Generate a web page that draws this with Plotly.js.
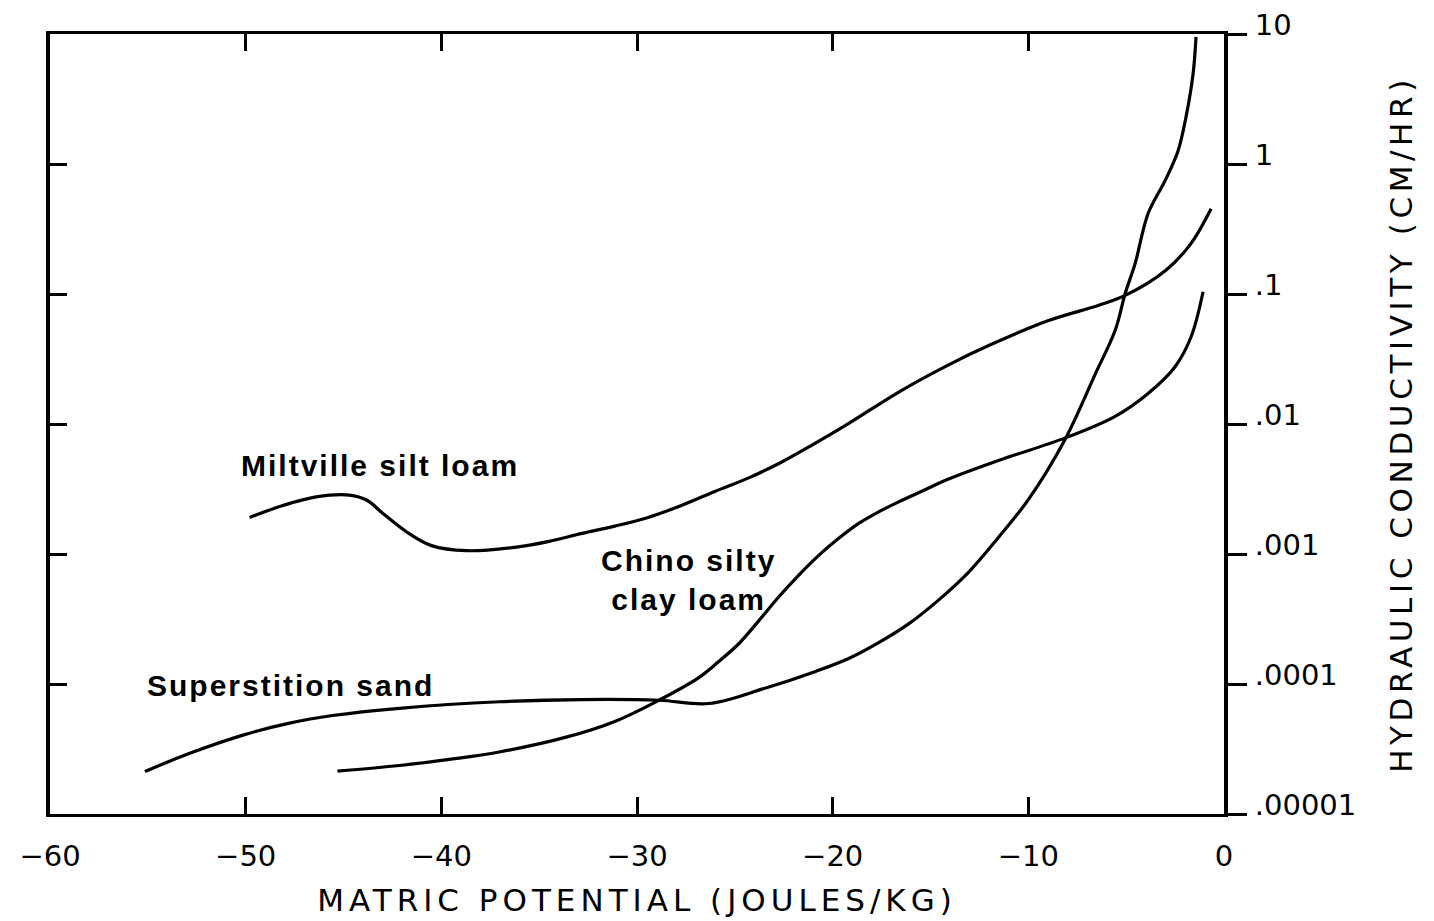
<!DOCTYPE html>
<html>
<head>
<meta charset="utf-8">
<script src="https://cdn.plot.ly/plotly-3.0.1.min.js"></script>
<style>
  html, body { margin: 0; padding: 0; background: #ffffff; }
  #chart { width: 1434px; height: 921px; }
  .xtitle { letter-spacing: 5px; }
  .ytitle { letter-spacing: 4.6px; }
  .annotation-text { letter-spacing: 2px; }
</style>
</head>
<body>
<div id="chart"></div>
<script>
// Matric potential (J/kg) and hydraulic conductivity (cm/hr)
const miltvillePotential = [-49.8, -48.1, -46.4, -44.7, -43.8, -43.0, -41.8, -40.5, -38.7, -36.17, -34.49, -32.81, -31.12, -29.39, -27.7, -26.02, -24.29, -22.6, -20.97, -19.34, -16.6, -14.1, -12.0, -9.0, -6.4, -5.05, -3.0, -1.7, -0.66];
const miltvilleK = [0.00191, 0.00236, 0.00275, 0.00284, 0.00259, 0.00206, 0.00149, 0.00116, 0.00106, 0.00113, 0.00125, 0.00144, 0.00164, 0.00192, 0.00237, 0.00303, 0.00385, 0.0051, 0.0070, 0.00975, 0.0177, 0.0284, 0.0403, 0.0622, 0.082, 0.0975, 0.151, 0.243, 0.452];

const sandPotential = [-55.15, -52.86, -50.05, -47.76, -45.56, -42.14, -37.04, -32.81, -28.88, -26.33, -23.42, -20.87, -19.18, -17.65, -16.12, -14.59, -13.06, -11.53, -10.0, -8.11, -6.58, -5.56, -5.05, -4.54, -3.88, -3.01, -2.35, -1.94, -1.58, -1.43];
const sandK = [2.12e-5, 2.93e-5, 4.08e-5, 5.0e-5, 5.72e-5, 6.5e-5, 7.3e-5, 7.59e-5, 7.5e-5, 7.08e-5, 9.33e-5, 1.25e-4, 1.57e-4, 2.08e-4, 2.9e-4, 4.42e-4, 7.23e-4, 1.34e-3, 2.62e-3, 7.68e-3, 0.0242, 0.0526, 0.101, 0.172, 0.416, 0.745, 1.26, 2.31, 4.94, 9.5];

const chinoPotential = [-45.31, -42.14, -39.59, -37.04, -33.62, -31.07, -28.88, -26.84, -25.82, -24.8, -23.78, -22.76, -21.73, -20.71, -19.69, -18.67, -17.65, -16.63, -15.36, -14.08, -11.53, -8.11, -5.56, -3.88, -2.5, -1.68, -1.07];
const chinoK = [2.14e-5, 2.36e-5, 2.63e-5, 3.0e-5, 3.9e-5, 5.2e-5, 7.5e-5, 1.12e-4, 1.49e-4, 2.04e-4, 3.06e-4, 4.67e-4, 6.89e-4, 9.77e-4, 1.32e-3, 1.72e-3, 2.11e-3, 2.52e-3, 3.08e-3, 3.77e-3, 5.24e-3, 7.82e-3, 0.01146, 0.01718, 0.0276, 0.0469, 0.104];

const xTickVals = [-60, -50, -40, -30, -20, -10, 0];
const yTickVals = [0.00001, 0.0001, 0.001, 0.01, 0.1, 1, 10];
const yTickText = ['.00001', '.0001', '.001', '.01', '.1', '1', '10'];
const yInnerTickVals = [0.0001, 0.001, 0.01, 0.1, 1];

const labelMiltville = 'Miltville silt loam';
const labelSand = 'Superstition sand';
const labelChino = 'Chino silty<br>clay loam';

const lineStyle = {color: '#000000', width: 3.2, shape: 'spline', smoothing: 1.0};

const traces = [
  {x: miltvillePotential, y: miltvilleK, type: 'scatter', mode: 'lines', line: lineStyle, name: 'Miltville silt loam', hoverinfo: 'skip'},
  {x: sandPotential, y: sandK, type: 'scatter', mode: 'lines', line: lineStyle, name: 'Superstition sand', hoverinfo: 'skip'},
  {x: chinoPotential, y: chinoK, type: 'scatter', mode: 'lines', line: lineStyle, name: 'Chino silty clay loam', yaxis: 'y2', hoverinfo: 'skip'}
];

const tickFont = {family: 'DejaVu Sans', size: 29, color: '#000000'};
const titleFont = {family: 'DejaVu Sans', size: 31, color: '#000000'};
const annFont = {family: 'Liberation Sans', size: 30, color: '#000000', weight: 'bold'};

const layout = {
  width: 1434,
  height: 921,
  paper_bgcolor: '#ffffff',
  plot_bgcolor: '#ffffff',
  showlegend: false,
  margin: {l: 50, r: 210, t: 34, b: 107},
  xaxis: {
    range: [-60, 0],
    tickvals: xTickVals,
    ticks: 'inside',
    ticklen: 17,
    tickwidth: 3,
    tickcolor: '#000000',
    showline: true,
    linewidth: 3,
    linecolor: '#000000',
    mirror: 'ticks',
    showgrid: false,
    zeroline: false,
    tickfont: tickFont,
    ticklabelstandoff: 14,
    title: {text: 'MATRIC POTENTIAL (JOULES/KG)', font: titleFont, standoff: 18}
  },
  yaxis: {
    type: 'log',
    range: [-5, 1],
    side: 'right',
    tickvals: yTickVals,
    ticktext: yTickText,
    ticks: 'outside',
    ticklen: 19,
    tickwidth: 3,
    tickcolor: '#000000',
    showline: true,
    linewidth: 4,
    linecolor: '#000000',
    showgrid: false,
    zeroline: false,
    tickfont: tickFont,
    ticklabelshift: -9,
    ticklabelstandoff: 2,
    title: {text: 'HYDRAULIC CONDUCTIVITY (CM/HR)', font: titleFont, standoff: 36}
  },
  yaxis2: {
    type: 'log',
    range: [-5, 1],
    overlaying: 'y',
    side: 'left',
    anchor: 'x',
    tickvals: yInnerTickVals,
    showticklabels: false,
    ticks: 'inside',
    ticklen: 17,
    tickwidth: 3,
    tickcolor: '#000000',
    showline: true,
    linewidth: 4,
    linecolor: '#000000',
    showgrid: false,
    zeroline: false
  },
  annotations: [
    {text: labelMiltville, x: -43.16, y: -2.317, xref: 'x', yref: 'y', showarrow: false, font: annFont},
    {text: labelSand, x: -47.7, y: -4.012, xref: 'x', yref: 'y', showarrow: false, font: annFont},
    {text: labelChino, x: -27.35, y: -3.202, xref: 'x', yref: 'y', showarrow: false, font: annFont, align: 'center'}
  ]
};

Plotly.newPlot('chart', traces, layout, {displayModeBar: false, staticPlot: true});
</script>
</body>
</html>
